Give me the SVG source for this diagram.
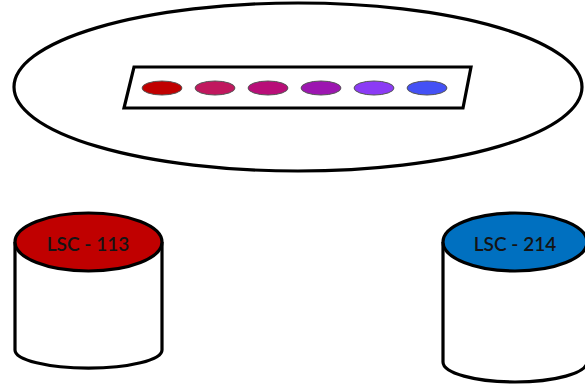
<svg xmlns="http://www.w3.org/2000/svg" width="585" height="389" viewBox="0 0 585 389">
  <style>
    .outline { fill: #ffffff; stroke: #000000; stroke-width: 3.2; }
    .dot { stroke: #555555; stroke-width: 1; }
    .label { font-family: Lato, "Noto Sans", "Liberation Sans", sans-serif; font-size: 19px; font-weight: 600; fill: #141414; text-anchor: middle; dominant-baseline: central; }
  </style>

  <!-- pool -->
  <g id="pool">
    <ellipse class="outline" cx="298" cy="87" rx="284" ry="84"/>
  </g>

  <!-- strip of samples -->
  <g id="strip">
    <polygon class="outline" points="134,67 471,67 463,108 124,108"/>
    <ellipse class="dot" cx="162" cy="88" rx="20" ry="7" fill="#C00000"/>
    <ellipse class="dot" cx="215" cy="88" rx="20" ry="7" fill="#C0185E"/>
    <ellipse class="dot" cx="268" cy="88" rx="20" ry="7" fill="#B80E78"/>
    <ellipse class="dot" cx="321" cy="88" rx="20" ry="7" fill="#9C16B0"/>
    <ellipse class="dot" cx="374" cy="88" rx="20" ry="7" fill="#8B3BF5"/>
    <ellipse class="dot" cx="427" cy="88" rx="20" ry="7" fill="#4451F5"/>
  </g>

  <!-- left cylinder -->
  <g id="lsc-113">
    <path class="outline" d="M15,242 L15,350 A73,18 0 0 0 162,350 L162,242"/>
    <ellipse class="outline" cx="88.5" cy="242" rx="73.5" ry="29" style="fill:#C00000"/>
    <text class="label" x="88" y="243">LSC - 113</text>
  </g>

  <!-- right cylinder -->
  <g id="lsc-214">
    <path class="outline" d="M443,242 L443,362 A72,20 0 0 0 587,362 L587,242"/>
    <ellipse class="outline" cx="515" cy="242" rx="72" ry="29" style="fill:#0070C0"/>
    <text class="label" x="515" y="243">LSC - 214</text>
  </g>
</svg>
